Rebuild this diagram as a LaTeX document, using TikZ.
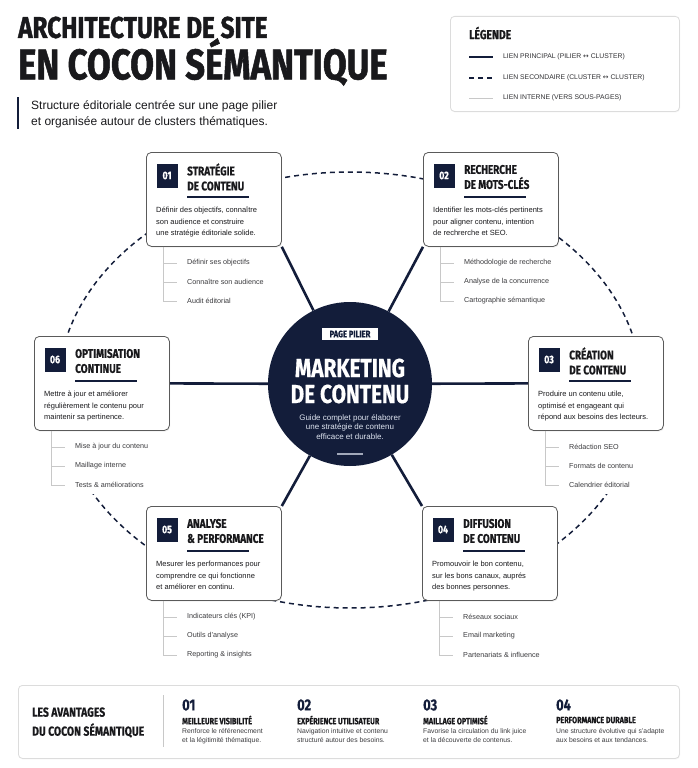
\documentclass[tikz,border=0pt]{standalone}
\usepackage{fontspec}
\setmainfont{Liberation Sans}
\newfontfamily\condfont{Fira Sans}[FakeStretch=0.8,FakeBold=0.5]
\newfontfamily\headfont{Fira Sans}[FakeStretch=0.81,FakeBold=1.2]
\newfontfamily\symfont{DejaVu Sans}
\usetikzlibrary{backgrounds,shadows}
\definecolor{navy}{RGB}{19,29,58}
\definecolor{ink}{RGB}{25,25,28}
\definecolor{boxline}{RGB}{90,90,90}
\definecolor{subgray}{RGB}{200,200,200}
\definecolor{panel}{RGB}{220,220,220}
\definecolor{paleblue}{RGB}{222,228,240}

\newcommand\cluster[9]{%
	\begin{scope}[shift={(#2,#3)}]
		\node[clusterbox] (#1) at (0,0) {};
		\node[numbox] (#1n) at (21,23.5) {#4};
		\node[clustertitle] (#1t) at (41,25) {#5};
		\draw[navy,line width=1.4pt] (41,45) -- (103,45);
		\node[clusterdesc] (#1d) at (10,55) {#6};
		\node[subitem] (#1a) at (41,111) {#7};
		\node[subitem] (#1b) at (41,130) {#8};
		\node[subitem] (#1c) at (41,149) {#9};
		\draw[subline] ([xshift=17pt]#1.south west) |- ([xshift=-10pt]#1a.west);
		\draw[subline] ([xshift=17pt]#1.south west) |- ([xshift=-10pt]#1b.west);
		\draw[subline] ([xshift=17pt]#1.south west) |- ([xshift=-10pt]#1c.west);
	\end{scope}}

\begin{document}
\begin{tikzpicture}[x=1pt,y=-1pt,
		clusterbox/.style={draw=boxline,line width=0.8pt,fill=white,rounded corners=5pt,minimum width=135pt,minimum height=94pt,anchor=north west,inner sep=0pt,drop shadow={opacity=0.12,shadow xshift=0.8pt,shadow yshift=-1.2pt}},
		numbox/.style={fill=navy,text=white,minimum width=21pt,minimum height=24pt,inner sep=0pt,font=\condfont\bfseries\fontsize{11}{11}\selectfont},
		clustertitle/.style={anchor=west,align=left,inner sep=0pt,text=ink,font=\condfont\bfseries\fontsize{12.5}{15}\selectfont},
		clusterdesc/.style={anchor=north west,align=left,inner sep=0pt,text=ink,font=\fontsize{7.5}{11.5}\selectfont},
		subitem/.style={anchor=west,inner sep=0pt,text=ink!85,font=\fontsize{7.2}{8}\selectfont},
		subline/.style={draw=subgray,line width=0.7pt},
		spoke/.style={draw=navy,line width=2.6pt},
		cocoon/.style={draw=navy,line width=1.5pt,dash pattern=on 5pt off 4pt},
		panelbox/.style={draw=panel,line width=0.8pt,fill=white,rounded corners=4pt,anchor=north west,inner sep=0pt,drop shadow={opacity=0.08,shadow xshift=0.6pt,shadow yshift=-1pt}},
		legendtext/.style={anchor=west,inner sep=0pt,text=ink!90,font=\fontsize{6.8}{8}\selectfont},
		bandnum/.style={anchor=west,inner sep=0pt,text=navy,font=\condfont\bfseries\fontsize{16}{16}\selectfont},
		bandtitle/.style={anchor=west,inner sep=0pt,text=ink,font=\condfont\bfseries\fontsize{9}{9}\selectfont},
		banddesc/.style={anchor=north west,align=left,inner sep=0pt,text=ink!85,font=\fontsize{6.8}{9.5}\selectfont}]
		\useasboundingbox (0,0) rectangle (697,768);
		
		\node[anchor=west,inner sep=0pt,text=ink,font=\headfont\bfseries\fontsize{30}{30}\selectfont] (titre1) at (18,27.5) {ARCHITECTURE DE SITE};
		\node[anchor=west,inner sep=0pt,text=ink,font=\headfont\bfseries\fontsize{42.8}{42.8}\selectfont] (titre2) at (18,62) {EN COCON SÉMANTIQUE};
		\node[anchor=west,align=left,inner sep=0pt,text=ink,font=\fontsize{12}{16}\selectfont] (soustitre) at (31,114) {Structure éditoriale centrée sur une page pilier\\et organisée autour de clusters thématiques.};
		\draw[navy,line width=2.5pt] (18,97) -- (18,129);
		
		\node[panelbox,minimum width=229pt,minimum height=95pt] (legende) at (450,16) {};
		\node[anchor=west,inner sep=0pt,text=ink,font=\condfont\bfseries\fontsize{13}{13}\selectfont] (legende-t) at (469,33) {LÉGENDE};
		\node[legendtext] (lg1) at (503,57) {LIEN PRINCIPAL (PILIER {\symfont ↔} CLUSTER)};
		\node[legendtext] (lg2) at (503,78) {LIEN SECONDAIRE (CLUSTER {\symfont ↔} CLUSTER)};
		\node[legendtext] (lg3) at (503,98) {LIEN INTERNE (VERS SOUS-PAGES)};
		\draw[spoke] ([xshift=-34pt]lg1.west) -- ([xshift=-10pt]lg1.west);
		\draw[cocoon] ([xshift=-34pt]lg2.west) -- ([xshift=-9pt]lg2.west);
		\draw[subgray,line width=0.9pt] ([xshift=-34pt]lg3.west) -- ([xshift=-10pt]lg3.west);
		
		\node[circle,fill=navy,minimum size=164pt,inner sep=0pt] (pilier) at (350,384) {};
		\node[fill=white,text=navy,minimum width=56pt,minimum height=12pt,inner sep=0pt,font=\condfont\bfseries\fontsize{9.5}{9.5}\selectfont] (pilier-tag) at (350,334) {PAGE PILIER};
		\node[align=center,inner sep=0pt,text=white,font=\condfont\bfseries\fontsize{26}{26}\selectfont] (pilier-t) at (350,381) {MARKETING\\DE CONTENU};
		\node[align=center,inner sep=0pt,text=paleblue,font=\fontsize{8}{9.7}\selectfont] (pilier-d) at (350,427) {Guide complet pour élaborer\\une stratégie de contenu\\efficace et durable.};
		\draw[paleblue!70!navy,line width=1.2pt] (337,454) -- (363,454);
		
		\cluster{c1}{146}{152}{01}{STRATÉGIE\\DE CONTENU}{Définir des objectifs, connaître\\son audience et construire\\une stratégie éditoriale solide.}{Définir ses objectifs}{Connaître son audience}{Audit éditorial}
		\cluster{c2}{423}{152}{02}{RECHERCHE\\DE MOTS-CLÉS}{Identifier les mots-clés pertinents\\pour aligner contenu, intention\\de rechrerche et SEO.}{Méthodologie de recherche}{Analyse de la concurrence}{Cartographie sémantique}
		\cluster{c3}{528}{336}{03}{CRÉATION\\DE CONTENU}{Produire un contenu utile,\\optimisé et engageant qui\\répond aux besoins des lecteurs.}{Rédaction SEO}{Formats de contenu}{Calendrier éditorial}
		\cluster{c4}{422}{506}{04}{DIFFUSION\\DE CONTENU}{Promouvoir le bon contenu,\\sur les bons canaux, auprés\\des bonnes personnes.}{Réseaux sociaux}{Email marketing}{Partenariats \& influence}
		\cluster{c5}{146}{506}{05}{ANALYSE\\\& PERFORMANCE}{Mesurer les performances pour\\comprendre ce qui fonctionne\\et améliorer en continu.}{Indicateurs clés (KPI)}{Outils d'analyse}{Reporting \& insights}
		\cluster{c6}{34}{336}{06}{OPTIMISATION\\CONTINUE}{Mettre à jour et améliorer\\régulièrement le contenu pour\\maintenir sa pertinence.}{Mise à jour du contenu}{Maillage interne}{Tests \& améliorations}
		
		\node[panelbox,minimum width=661pt,minimum height=73pt] (avantages) at (18,685) {};
		\node[anchor=west,align=left,inner sep=0pt,text=ink,font=\condfont\bfseries\fontsize{13}{19}\selectfont] (avantages-t) at (32,722.5) {LES AVANTAGES\\DU COCON SÉMANTIQUE};
		\draw[subline] (163,695) -- (163,747);
		\node[bandnum] (av1) at (182,705) {01};
		\node[bandtitle] (av1-t) at (182,720) {MEILLEURE VISIBILITÉ};
		\node[banddesc] (av1-d) at (182,728) {Renforce le référenecment\\et la légitimité thématique.};
		\node[bandnum] (av2) at (297,705) {02};
		\node[bandtitle] (av2-t) at (297,720) {EXPÉRIENCE UTILISATEUR};
		\node[banddesc] (av2-d) at (297,728) {Navigation intuitive et contenu\\structuré autour des besoins.};
		\node[bandnum] (av3) at (423,705) {03};
		\node[bandtitle] (av3-t) at (423,720) {MAILLAGE OPTIMISÉ};
		\node[banddesc] (av3-d) at (423,728) {Favorise la circulation du link juice\\et la découverte de contenus.};
		\node[bandnum] (av4) at (556,705) {04};
		\node[bandtitle] (av4-t) at (556,720) {PERFORMANCE DURABLE};
		\node[banddesc] (av4-d) at (556,728) {Une structure évolutive qui s'adapte\\aux besoins et aux tendances.};
		
		\begin{pgfonlayer}{background}
			\fill[white] (0,0) rectangle (697,768);
			\draw[cocoon] (350,390) ellipse [x radius=292,y radius=218];
			\fill[white] (c6.south west) rectangle ([yshift=-63pt]c6.south east);
			\fill[white] (c3.south west) rectangle ([yshift=-63pt]c3.south east);
			\draw[spoke] (pilier) -- (c1.south east);
			\draw[spoke] (pilier) -- (c2.south west);
			\draw[spoke] (pilier) -- (c3.west);
			\draw[spoke] (pilier) -- (c4.north west);
			\draw[spoke] (pilier) -- (c5.north east);
			\draw[spoke] (pilier) -- (c6.east);
		\end{pgfonlayer}
	\end{tikzpicture}
\end{document}
